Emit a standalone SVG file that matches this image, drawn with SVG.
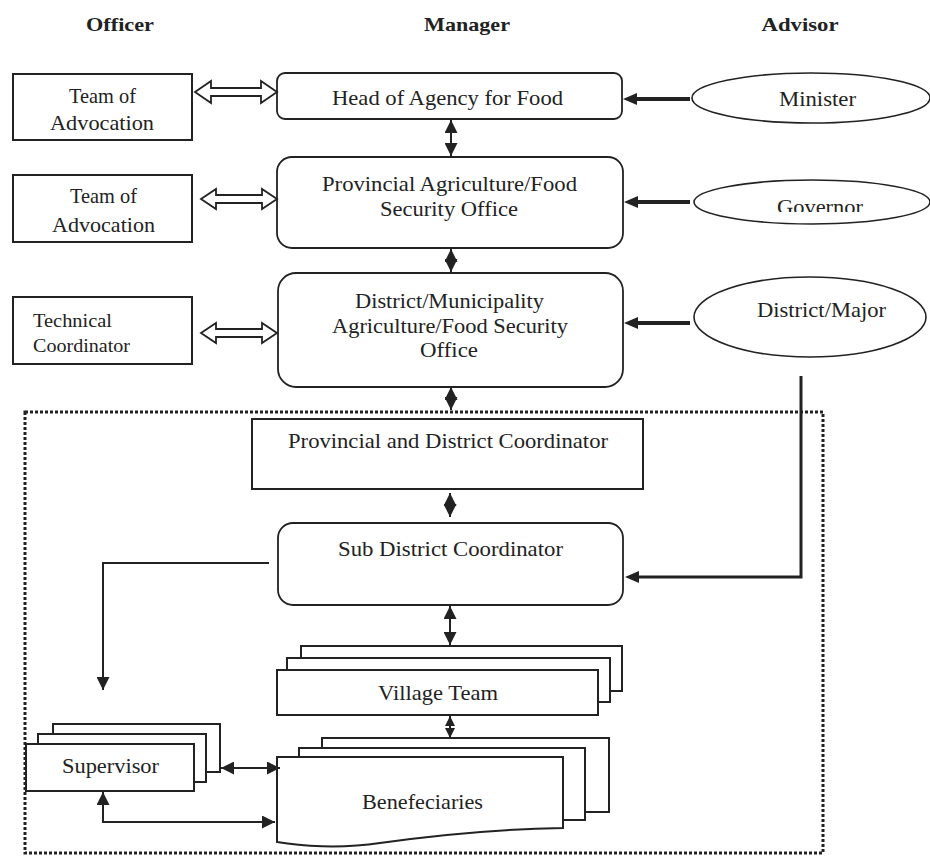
<svg xmlns="http://www.w3.org/2000/svg" width="930" height="857" viewBox="0 0 930 857">
<style>
text{font-family:"Liberation Serif","Times New Roman",serif;fill:#222;font-size:21px;text-anchor:middle}
.hdr{font-weight:bold;font-size:19px}
.sm{font-size:18px;text-anchor:start}
.box{fill:#fff;stroke:#222;stroke-width:2}
.rbox{fill:#fff;stroke:#222;stroke-width:1.8}
.ell{fill:#fff;stroke:#222;stroke-width:1.6}
.hollow{fill:#fff;stroke:#222;stroke-width:1.8;stroke-linejoin:miter}
.thin{fill:none;stroke:#222;stroke-width:2}
.thick{fill:none;stroke:#222;stroke-width:4}
.mid{fill:none;stroke:#222;stroke-width:3}
.dots{fill:none;stroke:#222;stroke-width:3;stroke-dasharray:3 2}
</style>
<defs>
<marker id="ah" viewBox="0 0 10 10" refX="10" refY="5" markerWidth="13" markerHeight="13" markerUnits="userSpaceOnUse" orient="auto-start-reverse">
<path d="M0,0 L10,5 L0,10 z" fill="#222"/>
</marker>
<marker id="ahS" viewBox="0 0 10 10" refX="10" refY="5" markerWidth="10" markerHeight="12" markerUnits="userSpaceOnUse" orient="auto-start-reverse">
<path d="M0,0 L10,5 L0,10 z" fill="#222"/>
</marker>
<marker id="ahBig" viewBox="0 0 14 12" refX="8" refY="6" markerWidth="14" markerHeight="12" markerUnits="userSpaceOnUse" orient="auto-start-reverse">
<path d="M0,0 L14,6 L0,12 z" fill="#222"/>
</marker>
<clipPath id="govClip"><rect x="690" y="180" width="240" height="32"/></clipPath>
</defs>

<g id="headers">
<text class="hdr" x="120" y="31" textLength="68" lengthAdjust="spacingAndGlyphs">Officer</text>
<text class="hdr" x="467" y="31" textLength="86" lengthAdjust="spacingAndGlyphs">Manager</text>
<text class="hdr" x="800" y="31" textLength="77" lengthAdjust="spacingAndGlyphs">Advisor</text>
</g>

<g id="outline-box">
<rect class="dots" x="25" y="412" width="798" height="441"/>
</g>

<g id="team-advocation-1">
<rect class="box" x="13" y="74" width="179" height="66"/>
<text x="102.5" y="103" textLength="67" lengthAdjust="spacingAndGlyphs">Team of</text>
<text x="102" y="130" textLength="104" lengthAdjust="spacingAndGlyphs">Advocation</text>
</g>
<g id="team-advocation-2">
<rect class="box" x="13" y="175" width="179" height="67"/>
<text x="103.5" y="203" textLength="67" lengthAdjust="spacingAndGlyphs">Team of</text>
<text x="103.5" y="232" textLength="103" lengthAdjust="spacingAndGlyphs">Advocation</text>
</g>
<g id="technical-coordinator">
<rect class="box" x="13" y="297" width="179" height="67"/>
<text class="sm" x="33" y="327" textLength="79" lengthAdjust="spacingAndGlyphs">Technical</text>
<text class="sm" x="33" y="352" textLength="97" lengthAdjust="spacingAndGlyphs">Coordinator</text>
</g>

<g id="head-agency">
<rect class="rbox" x="277" y="73" width="345" height="46" rx="8"/>
<text x="447.5" y="105" textLength="231" lengthAdjust="spacingAndGlyphs">Head of Agency for Food</text>
</g>
<g id="provincial-office">
<rect class="rbox" x="277" y="157" width="346" height="91" rx="15"/>
<text x="449.5" y="191" textLength="255" lengthAdjust="spacingAndGlyphs">Provincial Agriculture/Food</text>
<text x="449" y="216" textLength="138" lengthAdjust="spacingAndGlyphs">Security Office</text>
</g>
<g id="district-office">
<rect class="rbox" x="278" y="273" width="345" height="114" rx="18"/>
<text x="449.5" y="308" textLength="189" lengthAdjust="spacingAndGlyphs">District/Municipality</text>
<text x="450" y="333" textLength="236" lengthAdjust="spacingAndGlyphs">Agriculture/Food Security</text>
<text x="449" y="357" textLength="58" lengthAdjust="spacingAndGlyphs">Office</text>
</g>

<g id="minister">
<ellipse class="ell" cx="811" cy="98" rx="119" ry="25"/>
<text x="817.5" y="106" textLength="77" lengthAdjust="spacingAndGlyphs">Minister</text>
</g>
<g id="governor">
<ellipse class="ell" cx="812" cy="202" rx="118" ry="22"/>
<text x="820" y="214" textLength="86" lengthAdjust="spacingAndGlyphs" clip-path="url(#govClip)">Governor</text>
</g>
<g id="district-major">
<ellipse class="ell" cx="810" cy="317" rx="116" ry="40"/>
<text x="821.5" y="317" textLength="129" lengthAdjust="spacingAndGlyphs">District/Major</text>
</g>

<g id="prov-district-coordinator">
<rect class="box" x="252" y="419" width="391" height="70"/>
<text x="448" y="448" textLength="320" lengthAdjust="spacingAndGlyphs">Provincial and District Coordinator</text>
</g>
<g id="sub-district-coordinator">
<rect class="rbox" x="278" y="523" width="345" height="82" rx="15"/>
<text x="450.5" y="556" textLength="225" lengthAdjust="spacingAndGlyphs">Sub District Coordinator</text>
</g>

<g id="village-team">
<rect class="box" x="301" y="646" width="321" height="45"/>
<rect class="box" x="287" y="658" width="323" height="44"/>
<rect class="box" x="277" y="670" width="321" height="45"/>
<text x="438" y="700" textLength="120" lengthAdjust="spacingAndGlyphs">Village Team</text>
</g>

<g id="beneficiaries">
<rect class="box" x="322" y="738" width="287" height="74"/>
<rect class="box" x="299" y="748" width="286" height="72"/>
<path class="box" d="M277,757 H563 V828 C500,829 430,836 380,843 C340,849 300,846 277,842 Z"/>
<text x="422.5" y="809" textLength="121" lengthAdjust="spacingAndGlyphs">Benefeciaries</text>
</g>

<g id="supervisor">
<rect class="box" x="53" y="724" width="167" height="48"/>
<rect class="box" x="38" y="734" width="168" height="48"/>
<rect class="box" x="26" y="744" width="168" height="47"/>
<text x="110.5" y="773" textLength="97" lengthAdjust="spacingAndGlyphs">Supervisor</text>
</g>

<g id="connectors">
<polygon class="hollow" points="195,92 211,81 211,88 261,88 261,81 277,92 261,103 261,96 211,96 211,103"/>
<polygon class="hollow" points="201,199 216,189 216,195 262,195 262,189 277,199 262,209 262,203 216,203 216,209"/>
<polygon class="hollow" points="201,333 216,323 216,329 262,329 262,323 277,333 262,343 262,337 216,337 216,343"/>

<line class="thick" x1="690" y1="99" x2="629" y2="99" marker-end="url(#ahBig)"/>
<line class="thick" x1="690" y1="202" x2="630" y2="202" marker-end="url(#ahBig)"/>
<line class="thick" x1="690" y1="323" x2="630" y2="323" marker-end="url(#ahBig)"/>
<polyline class="mid" points="801,376 801,577 631,577" marker-end="url(#ahBig)"/>

<line class="thin" x1="451" y1="120" x2="451" y2="156" marker-start="url(#ah)" marker-end="url(#ah)"/>
<line class="thin" x1="451" y1="249" x2="451" y2="272" marker-start="url(#ah)" marker-end="url(#ah)"/>
<line class="thin" x1="451" y1="387" x2="451" y2="410" marker-start="url(#ah)" marker-end="url(#ah)"/>
<line class="thin" x1="450" y1="493" x2="450" y2="517" marker-start="url(#ah)" marker-end="url(#ah)"/>
<line class="thin" x1="450" y1="606" x2="450" y2="645" marker-start="url(#ah)" marker-end="url(#ah)"/>
<line class="thin" x1="450" y1="716" x2="450" y2="738" marker-start="url(#ahS)" marker-end="url(#ahS)"/>

<polyline class="thin" points="269,563 103,563 103,690" marker-end="url(#ah)"/>
<line class="thin" x1="221" y1="768" x2="280" y2="768" marker-start="url(#ah)" marker-end="url(#ah)"/>
<polyline class="thin" points="103,792 103,822 275,822" marker-start="url(#ah)" marker-end="url(#ah)"/>
</g>
</svg>
